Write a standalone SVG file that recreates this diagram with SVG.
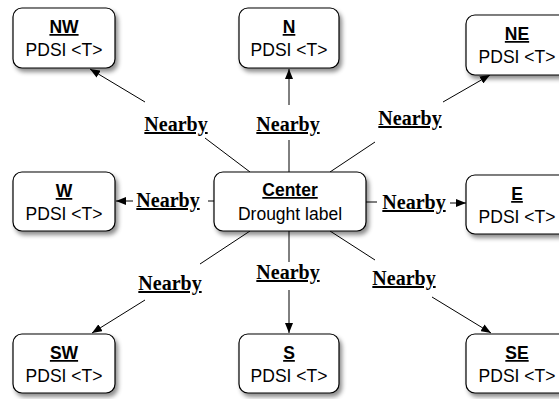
<svg xmlns="http://www.w3.org/2000/svg" width="559" height="399" viewBox="0 0 559 399">
<style>
.box{fill:#fff;stroke:#000;stroke-width:1.2;filter:url(#sh)}
.t{font-family:"Liberation Sans",Arial,sans-serif;font-size:17.5px;text-anchor:middle;fill:#000}
.h{font-weight:bold;text-decoration:underline}
.lbl{font-family:"Liberation Serif","Times New Roman",serif;font-size:20px;font-weight:bold;text-decoration:underline;text-anchor:middle;fill:#000}
.c{stroke:#000;stroke-width:1;fill:none}
.a{marker-end:url(#ar)}
</style>
<defs>
<filter id="sh" x="-20%" y="-20%" width="150%" height="160%">
<feDropShadow dx="2.5" dy="3.5" stdDeviation="2.2" flood-color="#000" flood-opacity="0.45"/>
</filter>
<marker id="ar" viewBox="0 0 10 8" refX="10" refY="4" markerWidth="10" markerHeight="8" markerUnits="userSpaceOnUse" orient="auto">
<path d="M0,0 L10,4 L0,8 Z" fill="#000"/>
</marker>
</defs>
<g id="connectors">
<line class="c" x1="250" y1="172" x2="205" y2="138"/>
<line class="c a" x1="145" y1="102" x2="90" y2="69"/>
<line class="c" x1="289" y1="172" x2="289" y2="140"/>
<line class="c a" x1="289" y1="105" x2="289" y2="69"/>
<line class="c" x1="330" y1="172" x2="375" y2="142"/>
<line class="c a" x1="443" y1="102" x2="490" y2="75"/>
<line class="c" x1="214" y1="201" x2="208" y2="201"/>
<line class="c a" x1="133" y1="201" x2="116" y2="201"/>
<line class="c" x1="366" y1="202" x2="377" y2="202"/>
<line class="c a" x1="450" y1="203" x2="466" y2="203"/>
<line class="c" x1="250" y1="231" x2="200" y2="264"/>
<line class="c a" x1="145" y1="300" x2="92" y2="333"/>
<line class="c" x1="289" y1="231" x2="289" y2="262"/>
<line class="c a" x1="289" y1="290" x2="289" y2="333"/>
<line class="c" x1="330" y1="231" x2="375" y2="260"/>
<line class="c a" x1="432" y1="297" x2="491" y2="333"/>
</g>
<g id="labels">
<text class="lbl" x="176" y="131">Nearby</text>
<text class="lbl" x="288" y="131">Nearby</text>
<text class="lbl" x="410" y="125">Nearby</text>
<text class="lbl" x="168" y="207">Nearby</text>
<text class="lbl" x="414" y="209">Nearby</text>
<text class="lbl" x="170" y="290">Nearby</text>
<text class="lbl" x="288" y="279">Nearby</text>
<text class="lbl" x="404" y="285">Nearby</text>
</g>
<g id="NW"><rect class="box" x="13" y="8" width="102" height="60" rx="9"/><text class="t h" x="64" y="33">NW</text><text class="t" x="64" y="56">PDSI &lt;T&gt;</text></g>
<g id="N"><rect class="box" x="239" y="8" width="100" height="60" rx="9"/><text class="t h" x="289" y="33">N</text><text class="t" x="289" y="56">PDSI &lt;T&gt;</text></g>
<g id="NE"><rect class="box" x="466" y="15" width="102" height="60" rx="9"/><text class="t h" x="517" y="40">NE</text><text class="t" x="517" y="63">PDSI &lt;T&gt;</text></g>
<g id="W"><rect class="box" x="13" y="172" width="102" height="59" rx="9"/><text class="t h" x="64" y="197">W</text><text class="t" x="64" y="220">PDSI &lt;T&gt;</text></g>
<g id="Center"><rect class="box" x="214" y="172" width="152" height="59" rx="9"/><text class="t h" x="290" y="196">Center</text><text class="t" x="290" y="220">Drought label</text></g>
<g id="E"><rect class="box" x="466" y="175" width="102" height="59" rx="9"/><text class="t h" x="517" y="200">E</text><text class="t" x="517" y="223">PDSI &lt;T&gt;</text></g>
<g id="SW"><rect class="box" x="13" y="334" width="102" height="59" rx="9"/><text class="t h" x="64" y="359">SW</text><text class="t" x="64" y="382">PDSI &lt;T&gt;</text></g>
<g id="S"><rect class="box" x="239" y="334" width="100" height="59" rx="9"/><text class="t h" x="289" y="359">S</text><text class="t" x="289" y="382">PDSI &lt;T&gt;</text></g>
<g id="SE"><rect class="box" x="466" y="334" width="102" height="59" rx="9"/><text class="t h" x="517" y="359">SE</text><text class="t" x="517" y="382">PDSI &lt;T&gt;</text></g>
</svg>
